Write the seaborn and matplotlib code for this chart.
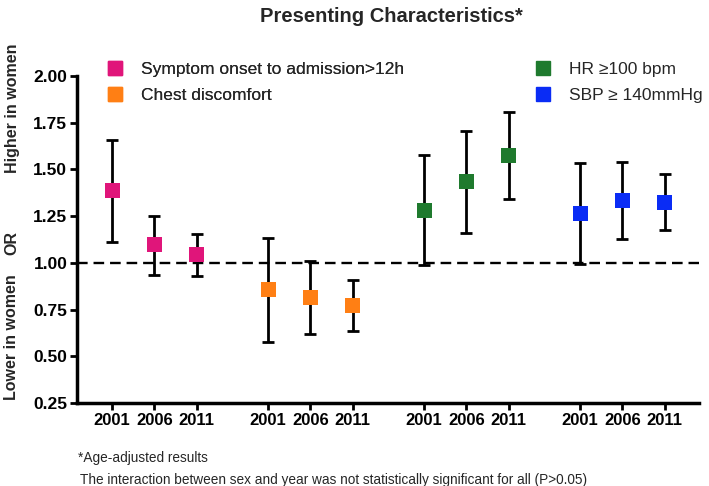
import numpy as np
import pandas as pd
import matplotlib
matplotlib.use("Agg")
import matplotlib.pyplot as plt
from matplotlib.lines import Line2D
import seaborn as sns

# data
years = ["2001", "2006", "2011"]
groups = ["Symptom onset to admission>12h", "Chest discomfort", "HR \u2265100 bpm", "SBP \u2265 140mmHg"]
colors = ["#E0157A", "#FF7F14", "#1F7A2E", "#0A2CF5"]

or_onset = [1.385, 1.096, 1.043]
lo_onset = [1.11, 0.936, 0.927]
hi_onset = [1.66, 1.253, 1.155]

or_chest = [0.858, 0.816, 0.770]
lo_chest = [0.575, 0.620, 0.633]
hi_chest = [1.135, 1.010, 0.907]

or_hr = [1.280, 1.434, 1.576]
lo_hr = [0.988, 1.159, 1.343]
hi_hr = [1.578, 1.708, 1.810]

or_sbp = [1.266, 1.333, 1.325]
lo_sbp = [0.995, 1.125, 1.177]
hi_sbp = [1.537, 1.542, 1.475]

ors = [or_onset, or_chest, or_hr, or_sbp]
los = [lo_onset, lo_chest, lo_hr, lo_sbp]
his = [hi_onset, hi_chest, hi_hr, hi_sbp]

group_step = 3.69
rows = []
for g, name in enumerate(groups):
    for i, yr in enumerate(years):
        rows.append({"group": name, "year": yr, "x": g * group_step + i,
                     "OR": ors[g][i], "lo": los[g][i], "hi": his[g][i]})
df = pd.DataFrame(rows)

sns.set_style("ticks")
plt.rcParams["font.family"] = ["Liberation Sans", "DejaVu Sans"]

fig = plt.figure(figsize=(7.09, 4.86), dpi=100)
ax = fig.add_axes([77 / 709, 1 - 403 / 486, (699 - 77) / 709, (403 - 76) / 486])

# reference line
ax.axhline(1.0, color="black", lw=1.7, ls=(0, (4.5, 2.5)), zorder=1)

# error bars
ax.errorbar(df["x"], df["OR"], yerr=[df["OR"] - df["lo"], df["hi"] - df["OR"]],
            fmt="none", ecolor="black", elinewidth=2, capsize=4, capthick=2, zorder=2)

sns.scatterplot(data=df, x="x", y="OR", hue="group", palette=colors, marker="s",
                s=115, linewidth=0, legend=False, ax=ax, zorder=3)

ax.set_xlim(-0.83, 13.88)
ax.set_ylim(0.25, 2.0)
ax.set_yticks(np.arange(0.25, 2.01, 0.25))
ax.set_yticklabels([f"{v:.2f}" for v in np.arange(0.25, 2.01, 0.25)])
ax.set_xticks(df["x"])
ax.set_xticklabels(df["year"])
ax.set_xlabel("")
ax.set_ylabel("")
for lab in ax.get_xticklabels():
    lab.set_fontweight("bold")
    lab.set_fontsize(12)
for lab in ax.get_yticklabels():
    lab.set_fontweight("bold")
    lab.set_fontsize(12.5)
ax.tick_params(axis="both", width=2, length=5, direction="out", pad=2, colors="black")
sns.despine(ax=ax)
for sp in ["left", "bottom"]:
    ax.spines[sp].set_linewidth(2.5)
    ax.spines[sp].set_color("black")

# legends in two columns
handles = [Line2D([], [], marker="s", ls="none", color=c, markersize=10) for c in colors]
leg_kw = dict(loc="upper left", frameon=False, fontsize=12.5, handlelength=1.0, handletextpad=1.0,
              labelspacing=0.62, borderpad=0, borderaxespad=0)
leg1 = fig.legend(handles[:2], groups[:2], bbox_to_anchor=(106 / 709, 1 - 62 / 486), **leg_kw)
fig.add_artist(leg1)
fig.legend(handles[2:], groups[2:], bbox_to_anchor=(534 / 709, 1 - 62 / 486), **leg_kw)

fig.text(391 / 709, 1 - 16 / 486, "Presenting Characteristics*", ha="center", va="center",
         fontsize=14.5, fontweight="bold")

# y axis side labels
fig.text(12 / 709, 1 - 108 / 486, "Higher in women", rotation=90, ha="center", va="center",
         fontsize=11.5, fontweight="bold")
fig.text(12 / 709, 1 - 243 / 486, "OR", rotation=90, ha="center", va="center",
         fontsize=11.5, fontweight="bold")
fig.text(12 / 709, 1 - 337 / 486, "Lower in women", rotation=90, ha="center", va="center",
         fontsize=11.5, fontweight="bold")

fig.text(78 / 709, 1 - 458 / 486, "*Age-adjusted results", ha="left", va="center", fontsize=9.8)
fig.text(80 / 709, 1 - 480 / 486,
         "The interaction between sex and year was not statistically significant for all (P>0.05)",
         ha="left", va="center", fontsize=9.8)

fig.savefig("out.png", dpi=100)
